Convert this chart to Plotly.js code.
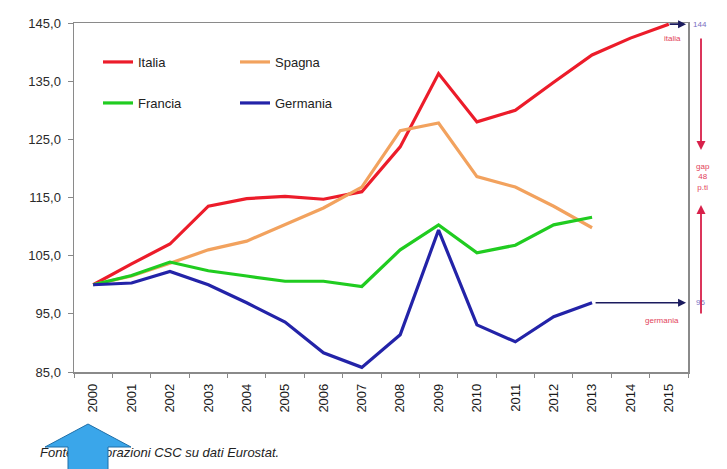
<!DOCTYPE html>
<html>
<head>
<meta charset="utf-8">
<script src="https://cdn.plot.ly/plotly-3.0.1.min.js"></script>
<style>
  html, body { margin: 0; padding: 0; background: #ffffff; }
  #chart { width: 727px; height: 469px; }
</style>
</head>
<body>
<div id="chart"></div>
<script>
// Indice 2000 = 100
const anni = ['2000','2001','2002','2003','2004','2005','2006','2007',
              '2008','2009','2010','2011','2012','2013','2014','2015'];

const italia   = [100, 103.6, 107.0, 113.5, 114.8, 115.2, 114.7, 116.0,
                  123.7, 136.3, 128.0, 130.0, 134.8, 139.5, 142.4, 144.8];
const spagna   = [100, 101.5, 103.7, 106.0, 107.5, 110.4, 113.2, 116.8,
                  126.5, 127.8, 118.6, 116.8, 113.5, 109.8];
const francia  = [100, 101.6, 103.9, 102.4, 101.5, 100.6, 100.6, 99.7,
                  106.0, 110.3, 105.5, 106.8, 110.3, 111.6];
const germania = [100, 100.3, 102.3, 100.0, 96.9, 93.6, 88.3, 85.8,
                  91.4, 109.4, 93.1, 90.2, 94.5, 96.9];

const nomi   = ['Italia', 'Spagna', 'Francia', 'Germania'];
const colori = ['#ec1c2a', '#f2a25e', '#20cc20', '#2323a8'];

// plot area in page pixels
const L = 74, R = 688, T = 23, B = 372;
const px = x => (x - L) / (R - L);
const py = y => (B - y) / (B - T);

const FONT = 'Liberation Sans, Arial, sans-serif';

const serie = [italia, spagna, francia, germania];
const traces = serie.map((v, i) => ({
  type: 'scatter',
  mode: 'lines',
  name: nomi[i],
  x: anni.slice(0, v.length),
  y: v,
  line: { color: colori[i], width: 3.2 },
  legend: i < 2 ? 'legend' : 'legend2',
  hoverinfo: 'skip'
}));

const fine = { it: italia[italia.length - 1], de: germania[germania.length - 1] };

const legendBase = {
  orientation: 'h',
  xanchor: 'left', yanchor: 'middle',
  bgcolor: 'rgba(0,0,0,0)',
  font: { family: FONT, size: 13, color: '#222' },
  entrywidth: 92, entrywidthmode: 'pixels',
  itemwidth: 30, tracegroupgap: 0
};

// light blue pointer drawn below the plot
const freccia = [[88,424],[131,447],[108,447],[108,470],[68,470],[68,447],[45,447]];
const frecciaPath = 'M' + freccia.map(p => px(p[0]) + ',' + py(p[1])).join('L') + 'Z';

const layout = {
  width: 727, height: 469,
  margin: { l: L, r: 727 - R, t: T, b: 469 - B, pad: 0 },
  paper_bgcolor: '#ffffff',
  plot_bgcolor: '#ffffff',
  separators: ',.',
  font: { family: FONT, color: '#222' },
  xaxis: {
    type: 'category',
    range: [-0.5, 15.5],
    tickson: 'boundaries',
    ticks: 'outside', ticklen: 4, tickcolor: '#888',
    ticklabelstandoff: 5,
    showline: true, linecolor: '#8a8a8a', linewidth: 1.5, mirror: true,
    showgrid: false, zeroline: false,
    tickangle: -90,
    tickfont: { size: 13, color: '#1a1a1a', family: FONT }
  },
  yaxis: {
    range: [85, 145],
    dtick: 10, tick0: 85,
    tickformat: '.1f',
    ticks: 'outside', ticklen: 5, tickcolor: '#888',
    ticklabelstandoff: 4,
    showline: true, linecolor: '#8a8a8a', linewidth: 1.5, mirror: true,
    showgrid: false, zeroline: false,
    tickfont: { size: 13, color: '#2a2a2a', family: FONT }
  },
  legend:  Object.assign({}, legendBase, { x: px(98), y: py(62) }),
  legend2: Object.assign({}, legendBase, { x: px(98), y: py(103) }),
  showlegend: true,
  shapes: [
    {
      type: 'path', xref: 'paper', yref: 'paper', path: frecciaPath,
      fillcolor: '#3aa6ea', line: { color: '#1f6fa8', width: 1 }, layer: 'above'
    }
  ],
  annotations: [
    // Italia: freccia verso il bordo destro
    { xref: 'x', yref: 'y', x: 15.45, y: fine.it, ax: -18, ay: 0,
      showarrow: true, arrowhead: 2, arrowsize: 1, arrowwidth: 1.6,
      arrowcolor: '#1b1b5e', text: '' },
    { xref: 'paper', yref: 'y', x: px(700), y: fine.it, xanchor: 'center', yanchor: 'middle',
      text: String(Math.floor(fine.it)), showarrow: false,
      font: { size: 8, color: '#7a6fbf' } },
    { xref: 'paper', yref: 'paper', x: px(672), y: py(38), xanchor: 'center', yanchor: 'middle',
      text: 'italia', showarrow: false, font: { size: 8, color: '#e2435a' } },
    // Germania: freccia verso il bordo destro
    { xref: 'x', yref: 'y', x: 15.45, y: fine.de, ax: -92, ay: 0,
      showarrow: true, arrowhead: 2, arrowsize: 1, arrowwidth: 1.6,
      arrowcolor: '#1b1b5e', text: '' },
    { xref: 'paper', yref: 'y', x: px(700), y: fine.de, xanchor: 'center', yanchor: 'middle',
      text: String(Math.floor(fine.de)), showarrow: false,
      font: { size: 8, color: '#7a6fbf' } },
    { xref: 'paper', yref: 'paper', x: px(662), y: py(320), xanchor: 'center', yanchor: 'middle',
      text: 'germania', showarrow: false, font: { size: 8, color: '#e2435a' } },
    // divario tra i due estremi
    { xref: 'paper', yref: 'paper', x: px(701), y: py(150), ax: 0, ay: -113,
      showarrow: true, arrowhead: 2, arrowsize: 1, arrowwidth: 1.8,
      arrowcolor: '#d8204a', text: '' },
    { xref: 'paper', yref: 'paper', x: px(701), y: py(205), ax: 0, ay: 110,
      showarrow: true, arrowhead: 2, arrowsize: 1, arrowwidth: 1.8,
      arrowcolor: '#d8204a', text: '' },
    { xref: 'paper', yref: 'paper', x: px(703), y: py(177), xanchor: 'center', yanchor: 'middle',
      text: 'gap<br>' + Math.round(fine.it - fine.de) + '<br>p.ti', showarrow: false,
      font: { size: 8, color: '#e2435a' } },
    // fonte
    { xref: 'paper', yref: 'paper', x: px(38), y: py(452), xanchor: 'left', yanchor: 'middle',
      text: '<i>Fonte: elaborazioni CSC su dati Eurostat.</i>', showarrow: false,
      font: { size: 13, color: '#222' } }
  ]
};

Plotly.newPlot('chart', traces, layout, { staticPlot: true, displayModeBar: false })
  .then(gd => {
    // keep the pointer on top of the source note
    const arrow = gd.querySelector('.shapelayer path');
    const info = gd.querySelector('.infolayer');
    if (arrow && info) info.appendChild(arrow);
  });
</script>
</body>
</html>
